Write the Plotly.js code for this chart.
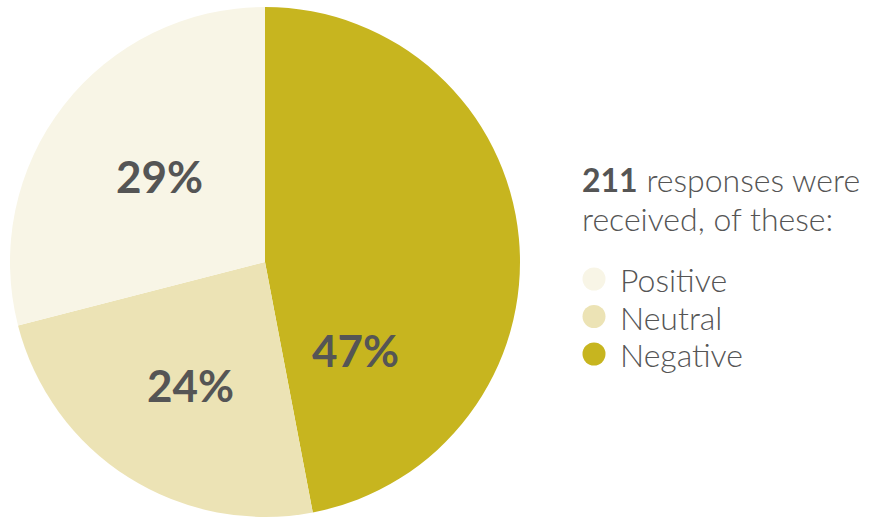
<!DOCTYPE html>
<html>
<head>
<meta charset="utf-8">
<script src="https://cdn.plot.ly/plotly-3.0.1.min.js"></script>
<style>html,body{margin:0;padding:0;background:#fff;}</style>
</head>
<body>
<div id="plot" style="width:881px;height:517px;"></div>
<script>
// responses split by sentiment
var labels = ['Negative', 'Neutral', 'Positive'];
var shares = [47, 24, 29];
var colors = ['#c7b51f', '#ece3b5', '#f8f5e6'];
var total = 211;
var legendOrder = ['Positive', 'Neutral', 'Negative'];

// where the percentage labels sit (px from top-left)
var labelPos = [[355, 352], [190, 387], [159, 178]];

var W = 881, H = 517;
function px(x) { return x / W; }
function py(y) { return 1 - y / H; }

var trace = {
  type: 'pie',
  labels: labels,
  values: shares,
  sort: false,
  direction: 'clockwise',
  rotation: 0,
  marker: {colors: colors, line: {width: 0}},
  textinfo: 'none',
  hoverinfo: 'label+percent',
  showlegend: false,
  domain: {x: [px(10), px(520)], y: [0, 510 / H]}
};

var annotations = [];
var shapes = [];

labels.forEach(function (name, i) {
  annotations.push({
    xref: 'paper', yref: 'paper', x: px(labelPos[i][0]), y: py(labelPos[i][1] - 2),
    xanchor: 'center', yanchor: 'middle', showarrow: false,
    text: shares[i] + '%',
    font: {family: 'Lato', size: 44, color: '#555555', weight: 'bold'}
  });
});

// base font size sets the line spacing (1.3x), the span sets the glyph size
annotations.push({
  xref: 'paper', yref: 'paper', x: px(580), y: py(199),
  xanchor: 'left', yanchor: 'middle', align: 'left', showarrow: false,
  text: '<span style="font-size:32px"><b>' + total + '</b> responses were<br>received, of these:</span>',
  font: {family: 'Lato', size: 38.5 / 1.3, color: '#555555', weight: 300}
});

legendOrder.forEach(function (name, i) {
  var c = colors[labels.indexOf(name)];
  shapes.push({
    type: 'circle', xref: 'paper', yref: 'paper',
    xsizemode: 'pixel', ysizemode: 'pixel',
    xanchor: px(594), yanchor: py(279 + i * 37.5),
    x0: -11.5, x1: 11.5, y0: -11.5, y1: 11.5,
    fillcolor: c, line: {width: 0}
  });
});

annotations.push({
  xref: 'paper', yref: 'paper', x: px(618), y: py(316.5),
  xanchor: 'left', yanchor: 'middle', align: 'left', showarrow: false,
  text: '<span style="font-size:32px">' + legendOrder.join('<br>') + '</span>',
  font: {family: 'Lato', size: 37.5 / 1.3, color: '#555555', weight: 300}
});

var layout = {
  width: W,
  height: H,
  margin: {l: 0, r: 0, t: 0, b: 0},
  paper_bgcolor: '#ffffff',
  annotations: annotations,
  shapes: shapes
};

Plotly.newPlot('plot', [trace], layout, {displayModeBar: false});
</script>
</body>
</html>
